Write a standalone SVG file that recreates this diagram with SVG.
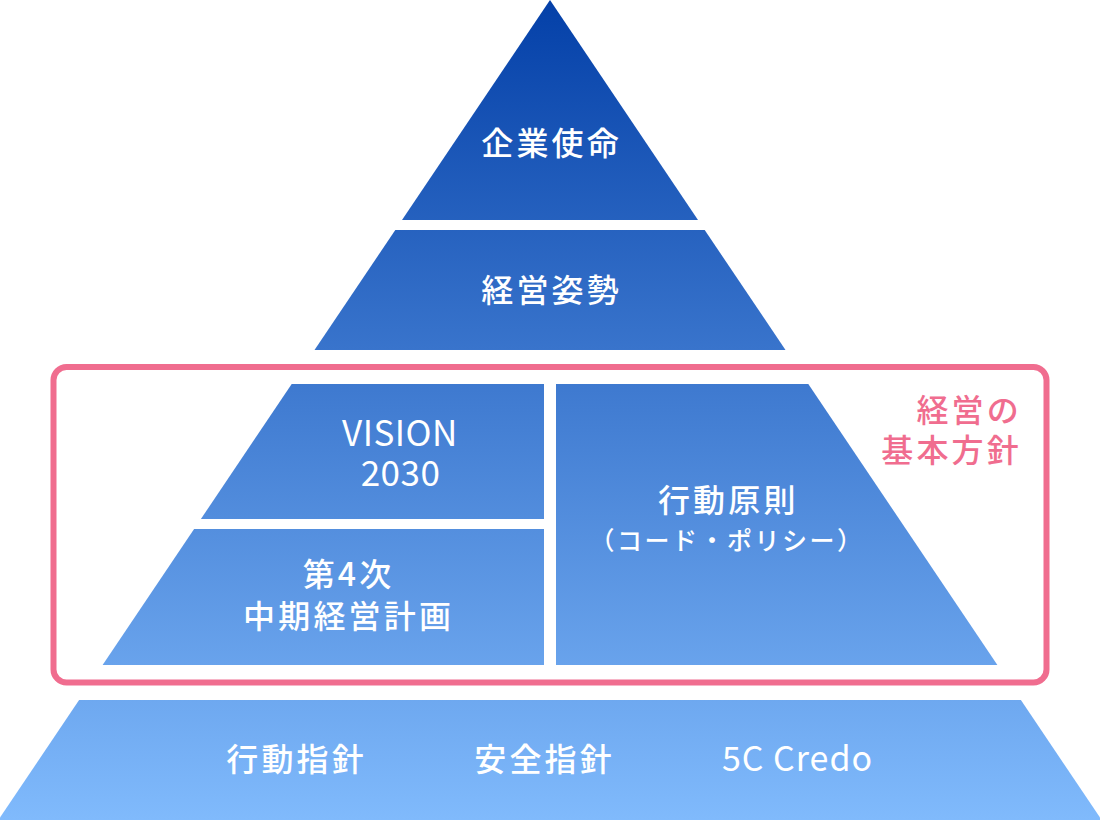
<svg xmlns="http://www.w3.org/2000/svg" width="1100" height="820" viewBox="0 0 1100 820">
<defs>
<linearGradient id="pg" gradientUnits="userSpaceOnUse" x1="0" y1="0" x2="0" y2="820">
<stop offset="0" stop-color="#0440a8"/>
<stop offset="1" stop-color="#80bafc"/>
</linearGradient>
<style>
.band{fill:url(#pg);}
.t{font-family:"Noto Sans CJK JP","Noto Sans",sans-serif;font-weight:500;font-size:32px;letter-spacing:3.2px;fill:#ffffff;text-anchor:middle;}
.s{font-size:25px;letter-spacing:2.5px;}
.lat{font-weight:400;font-size:35px;letter-spacing:0.5px;}
.pink{fill:#f06d8f;text-anchor:end;}
.frame{fill:none;stroke:#f06d8f;stroke-width:6;}
</style>
</defs>
<rect width="1100" height="820" fill="#ffffff"/>
<g id="kihon-frame">
<rect class="frame" x="53.5" y="367" width="993" height="315.5" rx="13"/>
<text class="t pink" x="1022" y="421.5">経営の</text>
<text class="t pink" x="1022" y="462">基本方針</text>
</g>
<g id="kigyo-shimei">
<polygon class="band" points="550,0 402,220 698,220"/>
<text class="t" x="551.6" y="155">企業使命</text>
</g>
<g id="keiei-shisei">
<polygon class="band" points="395.3,230 704.7,230 785.5,350 314.5,350"/>
<text class="t" x="551.6" y="301.5">経営姿勢</text>
</g>
<g id="vision2030">
<polygon class="band" points="291.7,384 544,384 544,519 200.9,519"/>
<text class="t lat" x="400" y="446">VISION</text>
<text class="t lat" x="400.5" y="486">2030</text>
</g>
<g id="chuki-keikaku">
<polygon class="band" points="194.1,529 544,529 544,665 102.6,665"/>
<text class="t" x="348.6" y="586">第4次</text>
<text class="t" x="348.6" y="628">中期経営計画</text>
</g>
<g id="kodo-gensoku">
<polygon class="band" points="556,384 808.3,384 997.4,665 556,665"/>
<text class="t" x="728.3" y="512">行動原則</text>
<text class="t s" x="727" y="550">（コード・ポリシー）</text>
</g>
<g id="kihon">
<polygon class="band" points="79.1,700 1020.9,700 1101.6,820 -1.6,820"/>
<text class="t" x="296.6" y="771">行動指針</text>
<text class="t" x="544.6" y="771">安全指針</text>
<text class="t lat" x="797.5" y="771" style="font-size:34px;letter-spacing:1px">5C Credo</text>
</g>
<g id="connectors"/>
</svg>
